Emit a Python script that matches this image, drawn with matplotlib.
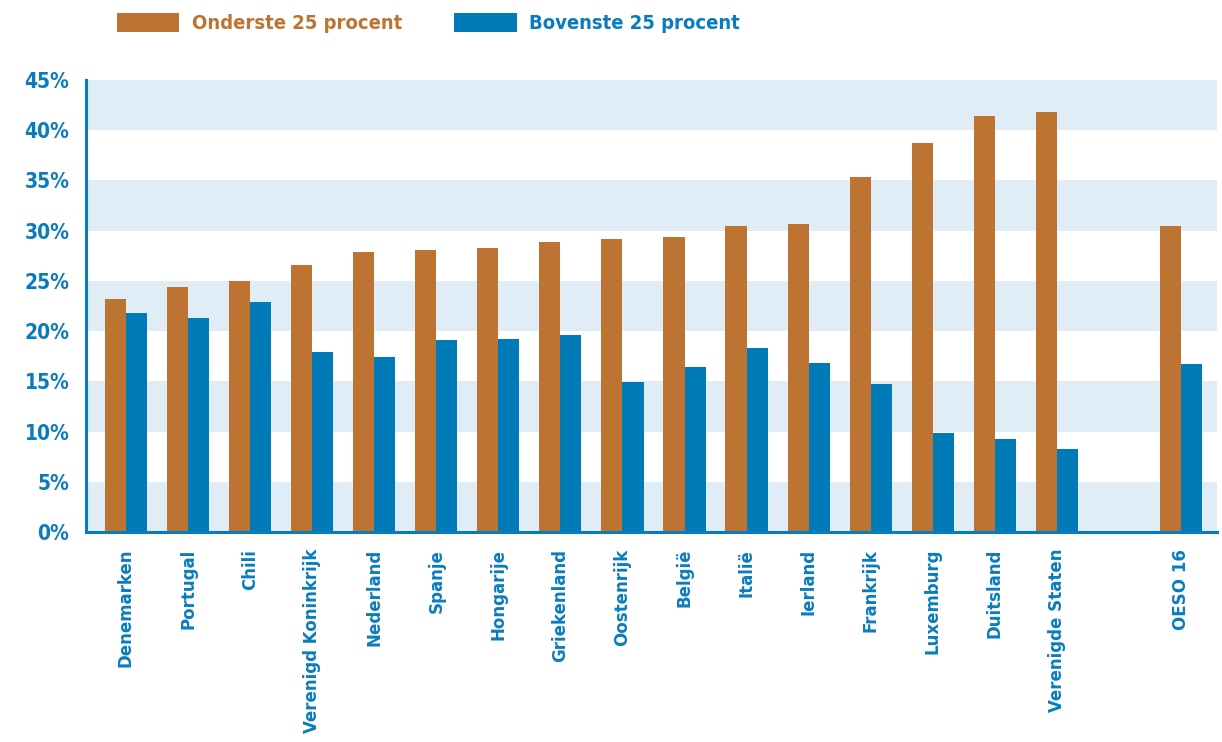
import numpy as np
import matplotlib
matplotlib.use('Agg')
import matplotlib.pyplot as plt
import matplotlib.ticker as ticker

plt.rcParams['font.family'] = ['DejaVu Sans']
plt.rcParams['font.stretch'] = 'condensed'
plt.rcParams['font.weight'] = 'bold'

# Data (aandeel in %, gelezen uit de grafiek)
landen = ['Denemarken', 'Portugal', 'Chili', 'Verenigd Koninkrijk', 'Nederland',
          'Spanje', 'Hongarije', 'Griekenland', 'Oostenrijk', 'België', 'Italië',
          'Ierland', 'Frankrijk', 'Luxemburg', 'Duitsland', 'Verenigde Staten',
          'OESO 16']
onderste = [23.2, 24.4, 25.0, 26.6, 27.9, 28.1, 28.3, 28.9, 29.2, 29.4, 30.5,
            30.7, 35.3, 38.7, 41.4, 41.8, 30.5]
bovenste = [21.8, 21.3, 22.9, 17.9, 17.4, 19.1, 19.2, 19.6, 14.9, 16.4, 18.3,
            16.8, 14.7, 9.9, 9.3, 8.3, 16.7]

oranje = '#bd7432'
blauw = '#007bb8'
tekst_blauw = '#0a7cbd'
band = '#e0edf6'

# posities: lege plek voor OESO 16
x = np.array(list(range(16)) + [17])
w = 0.34

fig = plt.figure(figsize=(12.22, 7.42), dpi=100)
ax = fig.add_axes([86/1222, 1 - 532/742, (1217 - 86)/1222, (532 - 80)/742])

# achtergrondbanden
for lo in range(0, 45, 10):
    ax.axhspan(lo, lo + 5, color=band, lw=0, zorder=0)

b1 = ax.bar(x - w/2, onderste, width=w, color=oranje, lw=0, zorder=2,
            label='Onderste 25 procent')
b2 = ax.bar(x + w/2, bovenste, width=w, color=blauw, lw=0, zorder=2,
            label='Bovenste 25 procent')

ax.set_xlim(-0.644, 17.58)
ax.set_ylim(0, 45)
ax.yaxis.set_major_locator(ticker.MultipleLocator(5))
ax.yaxis.set_major_formatter(ticker.FuncFormatter(lambda v, p: '%d%%' % v))

ax.set_xticks(x)
ax.set_xticklabels(landen, rotation=90, va='top', ha='center')
ax.tick_params(axis='x', length=0, pad=12, labelsize=13.3, labelcolor=tekst_blauw)
ax.tick_params(axis='y', length=0, pad=12, labelsize=15, labelcolor=tekst_blauw)

for s in ['top', 'right']:
    ax.spines[s].set_visible(False)
for s in ['left', 'bottom']:
    ax.spines[s].set_color(tekst_blauw)
    ax.spines[s].set_linewidth(2.2)
    ax.spines[s].set_zorder(3)

leg = fig.legend(handles=[b1, b2], loc='center left', bbox_to_anchor=(117/1222, 1 - 23/742),
                 ncol=2, frameon=False, fontsize=14.5, handlelength=3.1, handleheight=1.1,
                 handletextpad=0.6, columnspacing=2.6, borderpad=0, borderaxespad=0)
leg.get_texts()[0].set_color(oranje)
leg.get_texts()[1].set_color(tekst_blauw)

fig.savefig('out.png', dpi=100)
